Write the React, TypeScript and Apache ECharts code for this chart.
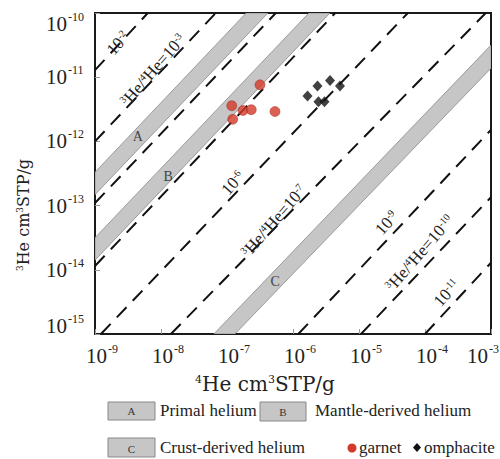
import React, { useEffect, useRef } from 'react';
import * as echarts from 'echarts';

// axis ticks (values and their exponent labels)
const xTicks = [1e-9, 1e-8, 1e-7, 1e-6, 1e-5, 1e-4, 1e-3];
const xTickExps = ['-9', '-8', '-7', '-6', '-5', '-4', '-3'];
const yTicks = [1e-15, 1e-14, 1e-13, 1e-12, 1e-11, 1e-10];
const yTickExps = ['-15', '-14', '-13', '-12', '-11', '-10'];

// samples: 4He (cm3STP/g) and 3He (cm3STP/g)
const garnet4He = [3.16e-7, 1.18e-7, 1.75e-7, 2.33e-7, 1.22e-7, 5.33e-7];
const garnet3He = [7.6e-12, 3.6e-12, 3.03e-12, 3.12e-12, 2.21e-12, 2.92e-12];
const omphacite4He = [1.66e-6, 2.35e-6, 3.64e-6, 5.15e-6, 2.43e-6, 3.0e-6];
const omphacite3He = [5.09e-12, 7.3e-12, 8.9e-12, 7.3e-12, 4.15e-12, 4.15e-12];

// 3He/4He reference lines, end points as [log10 4He, log10 3He]
const ratioLineNames = ['1e-2', '1e-3', '1e-4', '1e-5', '1e-6', '1e-7', '1e-9', '1e-10', '1e-11'];
const ratioLineStart = [[-9, -10.89], [-9, -12.0], [-9, -12.96], [-9, -13.94], [-8.91, -15], [-7.85, -15], [-5.92, -15], [-4.97, -15], [-4.0, -15]];
const ratioLineEnd = [[-8.2, -10], [-7.17, -10], [-6.26, -10], [-5.36, -10], [-4.26, -10], [-3.08, -10], [-3, -11.82], [-3, -12.87], [-3, -13.89]];

// helium source fields (corners as [log10 4He, log10 3He])
const bandLetters = ['A', 'B', 'C'];
const bandCorners = [
  [[-9, -12.48], [-6.71, -10], [-6.38, -10], [-9, -12.83]],
  [[-9, -13.5], [-5.76, -10], [-5.44, -10], [-9, -13.85]],
  [[-7.2, -15], [-3, -10.5], [-3, -10.86], [-6.88, -15]],
];
const bandLetterPos = [[-8.35, -11.93], [-7.89, -12.54], [-6.27, -14.19]];

// ratio line labels
const lineLabelText = [
  '{n|10}{s|-2}',
  '{s|3}{n|He/}{s|4}{n|He=10}{s|-3}',
  '{n|10}{s|-6}',
  '{s|3}{n|He/}{s|4}{n|He=10}{s|-7}',
  '{n|10}{s|-9}',
  '{s|3}{n|He/}{s|4}{n|He=10}{s|-10}',
  '{n|10}{s|-11}',
];
const lineLabelPos = [[-8.65, -10.47], [-8.12, -10.89], [-6.91, -12.65], [-6.29, -13.24], [-4.58, -13.27], [-4.08, -13.74], [-3.67, -14.36]];

const legendBandNames = ['Primal helium', 'Mantle-derived helium', 'Crust-derived helium'];
const legendPointNames = ['garnet', 'omphacite'];

const serif = '"Liberation Serif", "Times New Roman", serif';
const dvSerif = '"DejaVu Serif", serif';
const ink = '#222';
const bandFill = '#c6c6c6';
const bandStroke = '#8a8a8a';
const red = '#d33a2a';

const p10 = (v: number) => Math.pow(10, v);

const tok = (size: number, family: string, sup?: boolean) => ({
  font: `${size}px ${family}`,
  fontSize: size,
  fontFamily: family,
  fill: ink,
  color: ink,
  ...(sup ? { verticalAlign: 'top' } : {}),
});

// "10" + raised exponent as two plain texts
function powerLabel(x: number, y: number, exp: string) {
  return {
    type: 'group',
    children: [
      { type: 'text', x, y, style: { text: '10', font: `21px ${serif}`, fill: ink, align: 'right', verticalAlign: 'middle' } },
      { type: 'text', x: x + 1, y: y - 7, style: { text: exp, font: `12px ${serif}`, fill: ink, align: 'left', verticalAlign: 'middle' } },
    ],
  };
}

export default function App() {
  const ref = useRef<HTMLDivElement>(null);
  useEffect(() => {
    if (!ref.current) return;
    const chart = echarts.init(ref.current, undefined, { renderer: 'svg' });

    const lineSeries = ratioLineNames.map((name, i) => ({
      type: 'line',
      name: 'ratio ' + name,
      data: [
        [p10(ratioLineStart[i][0]), p10(ratioLineStart[i][1])],
        [p10(ratioLineEnd[i][0]), p10(ratioLineEnd[i][1])],
      ],
      symbol: 'none',
      silent: true,
      z: 3,
      lineStyle: { color: '#111', width: 2, type: [14, 9] },
    }));

    const option: any = {
      animation: false,
      backgroundColor: '#fff',
      grid: {
        left: 95, right: 9, top: 13, bottom: 125,
        show: true, borderColor: '#1a1a1a', borderWidth: 2, backgroundColor: 'transparent',
      },
      xAxis: {
        type: 'log', logBase: 10, min: 1e-9, max: 1e-3, splitNumber: 6,
        axisLine: { show: true, onZero: false, lineStyle: { color: '#1a1a1a', width: 2 } },
        axisTick: { show: true, inside: true, length: 5, lineStyle: { color: '#999' } },
        splitLine: { show: false },
        minorTick: { show: false },
        axisLabel: { show: false },
      },
      yAxis: {
        type: 'log', logBase: 10, min: 1e-15, max: 1e-10, splitNumber: 5,
        axisLine: { show: true, onZero: false, lineStyle: { color: '#1a1a1a', width: 2 } },
        axisTick: { show: true, inside: true, length: 5, lineStyle: { color: '#999' } },
        splitLine: { show: false },
        minorTick: { show: false },
        axisLabel: { show: false },
      },
      series: [
        {
          type: 'custom',
          name: 'bands',
          silent: true,
          z: 1,
          clip: true,
          data: bandCorners.map((c) => [p10(c[0][0]), p10(c[0][1])]),
          renderItem: (params: any, api: any) => {
            const corners = bandCorners[params.dataIndex];
            const pts = corners.map(([lx, ly]) => api.coord([p10(lx), p10(ly)]));
            return {
              type: 'polygon',
              shape: { points: pts },
              style: { fill: bandFill, stroke: bandStroke, lineWidth: 0.8 },
            };
          },
        },
        ...lineSeries,
        // x tick labels, placed through the x scale
        {
          type: 'custom',
          name: 'xTickLabels',
          silent: true,
          clip: false,
          z: 5,
          data: xTicks.map((v) => [v, 1e-15]),
          renderItem: (params: any, api: any) => {
            const i = params.dataIndex;
            const c = api.coord([xTicks[i], 1e-15]);
            return powerLabel(Math.min(c[0] + 12, 488), c[1] + 22, xTickExps[i]);
          },
        },
        // y tick labels, placed through the y scale
        {
          type: 'custom',
          name: 'yTickLabels',
          silent: true,
          clip: false,
          z: 5,
          data: yTicks.map((v) => [1e-9, v]),
          renderItem: (params: any, api: any) => {
            const i = params.dataIndex;
            const c = api.coord([1e-9, yTicks[i]]);
            return powerLabel(c[0] - 28, Math.min(Math.max(c[1], 24), 326), yTickExps[i]);
          },
        },
        {
          type: 'custom',
          name: 'labels',
          silent: true,
          z: 5,
          data: lineLabelPos.map((p) => [p10(p[0]), p10(p[1])]),
          renderItem: (params: any, api: any) => {
            const p = lineLabelPos[params.dataIndex];
            const c = api.coord([p10(p[0]), p10(p[1])]);
            return {
              type: 'text',
              x: c[0], y: c[1],
              rotation: (49 * Math.PI) / 180,
              style: {
                text: lineLabelText[params.dataIndex],
                font: `17px ${serif}`,
                align: 'center', verticalAlign: 'middle',
                rich: { n: tok(17, serif), s: tok(10, serif, true) },
              },
            };
          },
        },
        {
          type: 'custom',
          name: 'bandLetters',
          silent: true,
          z: 5,
          data: bandLetterPos.map((p) => [p10(p[0]), p10(p[1])]),
          renderItem: (params: any, api: any) => {
            const p = bandLetterPos[params.dataIndex];
            const c = api.coord([p10(p[0]), p10(p[1])]);
            return {
              type: 'text',
              x: c[0], y: c[1],
              style: {
                text: bandLetters[params.dataIndex],
                align: 'center', verticalAlign: 'middle',
                font: `14px ${serif}`, fill: '#444',
              },
            };
          },
        },
        {
          type: 'scatter',
          name: 'garnet',
          z: 6,
          symbol: 'circle',
          symbolSize: 10,
          itemStyle: { color: red, borderColor: '#9c2a1d', borderWidth: 0.6 },
          data: garnet4He.map((x, i) => [x, garnet3He[i]]),
        },
        {
          type: 'scatter',
          name: 'omphacite',
          z: 6,
          symbol: 'diamond',
          symbolSize: [10, 11],
          itemStyle: { color: '#111' },
          data: omphacite4He.map((x, i) => [x, omphacite3He[i]]),
        },
      ],
      graphic: [
        // axis names
        {
          type: 'text', x: 265, y: 384,
          style: {
            text: '{s|4}{b|He cm}{s|3}{b|STP/g}',
            font: `20px ${dvSerif}`,
            align: 'center', verticalAlign: 'middle',
            rich: { b: tok(20, dvSerif), s: tok(11, dvSerif, true) },
          },
        },
        {
          type: 'text', x: 23, y: 215, rotation: Math.PI / 2,
          style: {
            text: '{s|3}{b|He cm}{s|3}{b|STP/g}',
            font: `16px ${dvSerif}`,
            align: 'center', verticalAlign: 'middle',
            rich: { b: tok(16, dvSerif), s: tok(9, dvSerif, true) },
          },
        },
        // legend row 1
        { type: 'rect', shape: { x: 108, y: 402, width: 47, height: 18 }, style: { fill: bandFill, stroke: '#888', lineWidth: 1 } },
        { type: 'text', x: 131.5, y: 411, style: { text: bandLetters[0], align: 'center', verticalAlign: 'middle', font: `11px ${serif}`, fill: '#333' } },
        { type: 'text', x: 160, y: 410, style: { text: legendBandNames[0], align: 'left', verticalAlign: 'middle', font: `17px ${serif}`, fill: ink } },
        { type: 'rect', shape: { x: 260, y: 402, width: 46, height: 19 }, style: { fill: bandFill, stroke: '#888', lineWidth: 1 } },
        { type: 'text', x: 283, y: 412, style: { text: bandLetters[1], align: 'center', verticalAlign: 'middle', font: `11px ${serif}`, fill: '#333' } },
        { type: 'text', x: 315, y: 410, style: { text: legendBandNames[1], align: 'left', verticalAlign: 'middle', font: `17px ${serif}`, fill: ink } },
        // legend row 2
        { type: 'rect', shape: { x: 108, y: 438, width: 47, height: 19 }, style: { fill: bandFill, stroke: '#888', lineWidth: 1 } },
        { type: 'text', x: 131.5, y: 449, style: { text: bandLetters[2], align: 'center', verticalAlign: 'middle', font: `11px ${serif}`, fill: '#333' } },
        { type: 'text', x: 160, y: 447, style: { text: legendBandNames[2], align: 'left', verticalAlign: 'middle', font: `17px ${serif}`, fill: ink } },
        { type: 'circle', shape: { cx: 352, cy: 448, r: 4.5 }, style: { fill: red } },
        { type: 'text', x: 359, y: 447, style: { text: legendPointNames[0], align: 'left', verticalAlign: 'middle', font: `17px ${serif}`, fill: ink } },
        { type: 'polygon', shape: { points: [[417, 443], [421, 447.5], [417, 452], [413, 447.5]] }, style: { fill: '#111' } },
        { type: 'text', x: 424, y: 447, style: { text: legendPointNames[1], align: 'left', verticalAlign: 'middle', font: `17px ${serif}`, fill: ink } },
      ],
    };
    chart.setOption(option);
    return () => chart.dispose();
  }, []);
  return <div ref={ref} style={{ position: 'fixed', left: 0, top: 0, width: 500, height: 459 }} />;
}
